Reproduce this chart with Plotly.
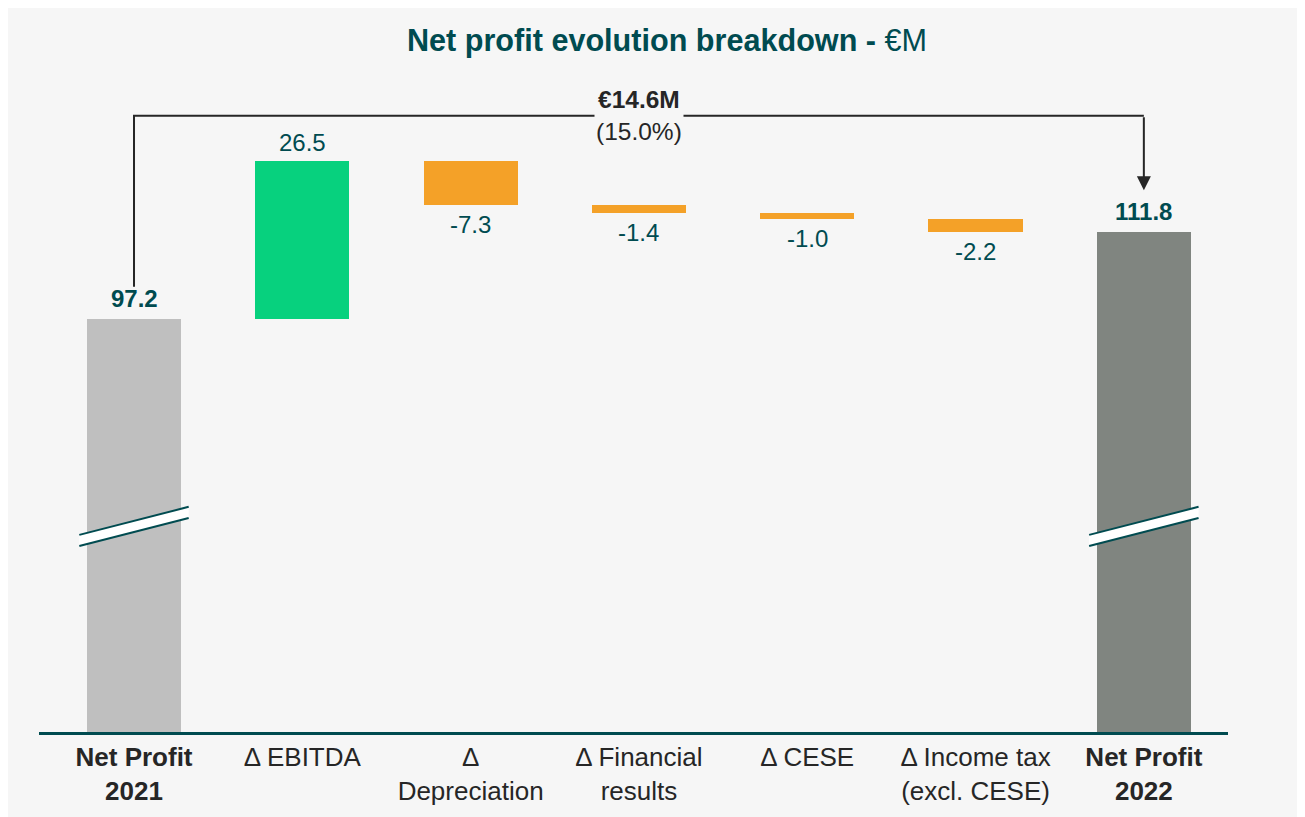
import plotly.graph_objects as go

# ---- data ----
categories = ["<b>Net Profit</b><br><b>2021</b>", "Δ EBITDA", "Δ<br>Depreciation",
              "Δ Financial<br>results", "Δ CESE", "Δ Income tax<br>(excl. CESE)",
              "<b>Net Profit</b><br><b>2022</b>"]
start_total = 97.2
deltas = [26.5, -7.3, -1.4, -1.0, -2.2]
end_total = 111.8
delta_labels = ["26.5", "-7.3", "-1.4", "-1.0", "-2.2"]
total_labels = ["97.2", "111.8"]
change_label = "<b>€14.6M</b><br>(15.0%)"

# ---- styles ----
BG = "#f6f6f6"
TEAL = "#004b50"
DARK = "#262626"
C_START = "#bfbfbf"
C_END = "#808580"
C_UP = "#07d17e"
C_DOWN = "#f4a128"
FONT = "Liberation Sans, Arial, sans-serif"
Y_MIN, Y_MAX = 27.9, 137.3

# build floating bars from the data
bases, heights, colors = [0], [start_total], [C_START]
running = start_total
for d in deltas:
    if d >= 0:
        bases.append(running); heights.append(d); colors.append(C_UP)
    else:
        bases.append(running + d); heights.append(-d); colors.append(C_DOWN)
    running += d
bases.append(0); heights.append(end_total); colors.append(C_END)
xs = list(range(len(categories)))

fig = go.Figure(go.Bar(x=xs, y=heights, base=bases, marker=dict(color=colors, line=dict(width=0)),
                       width=0.56, hoverinfo="skip"))

annotations = []
# total labels
for xi, val, lab in [(0, start_total, total_labels[0]), (6, end_total, total_labels[1])]:
    annotations.append(dict(x=xi, y=val, text=f"<b>{lab}</b>", showarrow=False, yanchor="bottom",
                            yshift=5, font=dict(size=24, color=TEAL, family=FONT)))
# delta labels
running = start_total
for i, (d, lab) in enumerate(zip(deltas, delta_labels), start=1):
    if d >= 0:
        annotations.append(dict(x=i, y=running + d, text=lab, showarrow=False, yanchor="bottom",
                                yshift=3, font=dict(size=24, color=TEAL, family=FONT)))
    else:
        annotations.append(dict(x=i, y=running + d, text=lab, showarrow=False, yanchor="top",
                                yshift=-4, font=dict(size=24, color=TEAL, family=FONT)))
    running += d

# bracket
BRACKET_Y = 131.3
LEFT_START = start_total + 5.4
RIGHT_END = end_total + 7.0
shapes = [
    dict(type="path", xref="x", yref="y",
         path=f"M 0,{LEFT_START} L 0,{BRACKET_Y} L 6,{BRACKET_Y}",
         line=dict(color=DARK, width=2)),
]
annotations.append(dict(x=6, y=RIGHT_END, ax=6, ay=BRACKET_Y, xref="x", yref="y", axref="x", ayref="y",
                        showarrow=True, arrowhead=2, arrowsize=1.4, arrowwidth=2, arrowcolor=DARK, text=""))
annotations.append(dict(x=3, y=BRACKET_Y, text=change_label, showarrow=False, bgcolor=BG, borderpad=1,
                        font=dict(size=24.5, color=DARK, family=FONT)))

# axis break marks
BREAK_Y, GAP, DX, DY = 62.4, 0.93, 0.325, 2.35
for xi in (0, 6):
    shapes.append(dict(type="path", xref="x", yref="y", layer="above",
                       path=(f"M {xi-DX},{BREAK_Y-DY+GAP} L {xi+DX},{BREAK_Y+DY+GAP} "
                             f"L {xi+DX},{BREAK_Y+DY-GAP} L {xi-DX},{BREAK_Y-DY-GAP} Z"),
                       fillcolor="white", line=dict(width=0)))
    for s in (GAP, -GAP):
        shapes.append(dict(type="line", xref="x", yref="y", layer="above",
                           x0=xi-DX, y0=BREAK_Y-DY+s, x1=xi+DX, y1=BREAK_Y+DY+s,
                           line=dict(color=TEAL, width=2)))

fig.update_layout(
    width=1305, height=817,
    paper_bgcolor=BG, plot_bgcolor=BG,
    margin=dict(l=31, r=85, t=72, b=93),
    showlegend=False,
    title=dict(text="<b>Net profit evolution breakdown - </b>€M", x=659 / 1305,
               xanchor="center", y=1 - 32/817, yanchor="middle", yref="container",
               font=dict(size=30.6, color=TEAL, family=FONT)),
    xaxis=dict(tickmode="array", tickvals=xs, ticktext=categories, range=[-0.5645, 6.5],
               showgrid=False, zeroline=False, showline=True, linecolor=TEAL, linewidth=3,
               ticks="", tickfont=dict(size=26, color=DARK, family=FONT), fixedrange=True),
    yaxis=dict(range=[Y_MIN, Y_MAX], visible=False, showgrid=False, zeroline=False, fixedrange=True),
    shapes=shapes,
    annotations=annotations,
    bargap=0,
)

fig.write_html("out.html")
